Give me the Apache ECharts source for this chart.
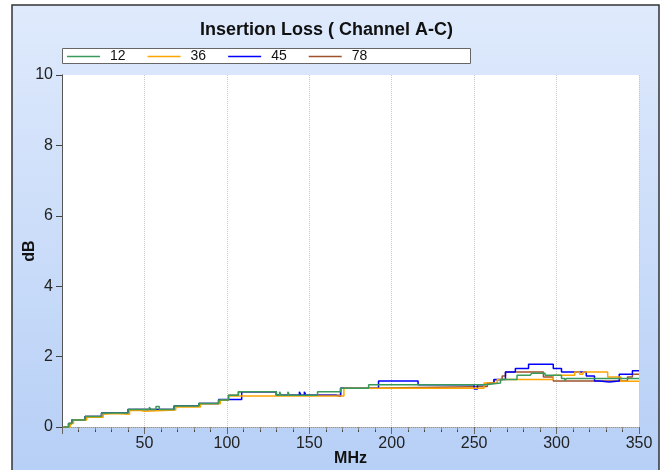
<!DOCTYPE html>
<html>
<head>
<meta charset="utf-8">
<script src="https://cdn.jsdelivr.net/npm/echarts@6/dist/echarts.min.js"></script>
<style>
  html, body { margin: 0; padding: 0; background: #fff; }
  #chart { width: 665px; height: 470px; }
</style>
</head>
<body>
<div id="chart"></div>
<script>
// pair names, legend order
const pairNames = ['12', '36', '45', '78']
const pairColors = ['#3a9a5a', '#ffa500', '#0000ff', '#a0522d']

// [MHz, dB] change points of each stepped trace
const ch12 = [[1,0],[4,0.1],[6,0.2],[14,0.3],[24,0.4],[40,0.5],[53,0.56],[54,0.5],[57,0.58],[59,0.5],[68,0.6],[83,0.67],[95,0.77],[101,0.9],[107,1.0],[130,0.9],[132,1.0],[133,0.9],[137,1.0],[138,0.9],[155,1.0],[169,1.1],[186,1.2],[257,1.25],[266,1.35],[276,1.47],[284,1.42],[285,1.53],[293,1.47],[303,1.38],[305,1.32],[306,1.38],[350,1.38]]
const ch36 = [[1,0],[5,0.1],[7,0.2],[15,0.28],[25,0.36],[26,0.38],[32,0.36],[41,0.47],[48,0.45],[50,0.48],[69,0.57],[75,0.53],[76,0.57],[84,0.66],[96,0.76],[101,0.88],[171,1.1],[256,1.25],[264,1.35],[280,1.3],[281,1.35],[298,1.47],[311,1.56],[314,1.5],[316,1.56],[331,1.42],[339,1.3],[350,1.3]]
const ch45 = [[1,0],[4,0.1],[6,0.2],[14,0.3],[24,0.4],[40,0.5],[68,0.6],[83,0.67],[95,0.78],[109,1.0],[130,0.9],[144,1.0],[145,0.9],[147,1.0],[148,0.9],[166,0.87],[169,1.1],[192,1.31],[216,1.2],[250,1.08],[252,1.2],[256,1.25],[262,1.35],[269,1.56],[275,1.66],[283,1.78],[298,1.66],[303,1.56],[318,1.45],[323,1.31],[326,1.28],[332,1.31],[338,1.5],[346,1.6],[350,1.6]]
const ch78 = [[1,0],[4,0.1],[6,0.2],[14,0.3],[24,0.4],[40,0.5],[68,0.6],[83,0.67],[95,0.77],[101,0.9],[107,1.0],[130,0.9],[169,1.1],[186,1.15],[258,1.25],[262,1.34],[267,1.45],[269,1.56],[292,1.42],[298,1.31],[334,1.31],[343,1.42],[346,1.5],[350,1.5]]

const traces = [ch12, ch36, ch45, ch78]
const font = 'Liberation Sans, Arial, sans-serif'

const chart = echarts.init(document.getElementById('chart'))

// draw 78 first so 12 ends up on top
const series = [3, 2, 1, 0].map(i => ({
  name: pairNames[i],
  type: 'line',
  step: 'end',
  symbol: 'none',
  data: traces[i],
  lineStyle: { color: pairColors[i], width: 1.5 },
  itemStyle: { color: pairColors[i] },
  z: 3 + (3 - i)
}))

chart.setOption({
  animation: false,
  textStyle: { fontFamily: font },
  title: {
    text: 'Insertion Loss ( Channel A-C)',
    left: 195,
    top: 16,
    textStyle: { fontSize: 18, fontWeight: 'bold', color: '#111', fontFamily: font }
  },
  graphic: [
    {
      type: 'rect',
      z: -10,
      shape: { x: 12, y: 5, width: 647, height: 470 },
      style: {
        fill: new echarts.graphic.LinearGradient(0, 0, 0, 1, [
          { offset: 0, color: '#dfeafc' },
          { offset: 1, color: '#b6cff6' }
        ]),
        stroke: '#333',
        lineWidth: 1.5
      }
    },
    {
      type: 'rect',
      z: 1,
      shape: { x: 62.5, y: 48.5, width: 408, height: 15 },
      style: { fill: '#fff', stroke: '#666', lineWidth: 1 }
    }
  ],
  legend: {
    data: pairNames,
    left: 67,
    top: 48,
    icon: 'rect',
    itemWidth: 33,
    itemHeight: 1.5,
    itemGap: 22,
    padding: [1, 0],
    textStyle: { fontSize: 14, color: '#111', fontFamily: font, lineHeight: 15, padding: [0, 0, 0, 5] }
  },
  grid: {
    left: 62, right: 26, top: 75, bottom: 43,
    outerBoundsMode: 'none',
    show: true, backgroundColor: '#fff', borderWidth: 0
  },
  xAxis: [
    {
      type: 'value',
      min: 0, max: 350, interval: 50,
      name: 'MHz',
      nameLocation: 'middle',
      nameGap: 24,
      nameMoveOverlap: false,
      nameTextStyle: { fontSize: 16, fontWeight: 'bold', color: '#111' },
      axisLine: { lineStyle: { color: '#555', width: 1 } },
      axisTick: { length: 7, lineStyle: { color: '#666' } },
      minorTick: { show: true, splitNumber: 5, length: 5, lineStyle: { color: '#444' } },
      axisLabel: {
        fontSize: 16, color: '#222', margin: 9,
        formatter: v => (v === 0 ? '' : v)
      },
      splitLine: { show: true, lineStyle: { color: '#c8c8c8', type: 'dotted' } }
    },
    {
      type: 'value',
      position: 'top',
      min: 0, max: 350, interval: 50,
      axisLine: { lineStyle: { color: '#bbb', type: 'dotted' } },
      axisTick: { inside: true, length: 4, lineStyle: { color: '#666' } },
      minorTick: { show: true, splitNumber: 5, length: 3, lineStyle: { color: '#888' } },
      axisLabel: { show: false },
      splitLine: { show: false }
    }
  ],
  yAxis: [
    {
      type: 'value',
      min: 0, max: 10, interval: 2,
      name: 'dB',
      nameLocation: 'middle',
      nameGap: 24,
      nameMoveOverlap: false,
      nameTextStyle: { fontSize: 16, fontWeight: 'bold', color: '#111' },
      axisLine: { show: true, lineStyle: { color: '#555', width: 1 } },
      axisTick: { show: true, length: 6, lineStyle: { color: '#444' } },
      axisLabel: { fontSize: 16, color: '#222', margin: 9 },
      splitLine: { show: false }
    },
    {
      type: 'value',
      position: 'right',
      min: 0, max: 10, interval: 2,
      axisLine: { show: true, lineStyle: { color: '#555', width: 1 } },
      axisTick: { show: true, inside: true, length: 5, lineStyle: { color: '#444' } },
      axisLabel: { show: false },
      splitLine: { show: false }
    }
  ],
  series: series
})
</script>
</body>
</html>
